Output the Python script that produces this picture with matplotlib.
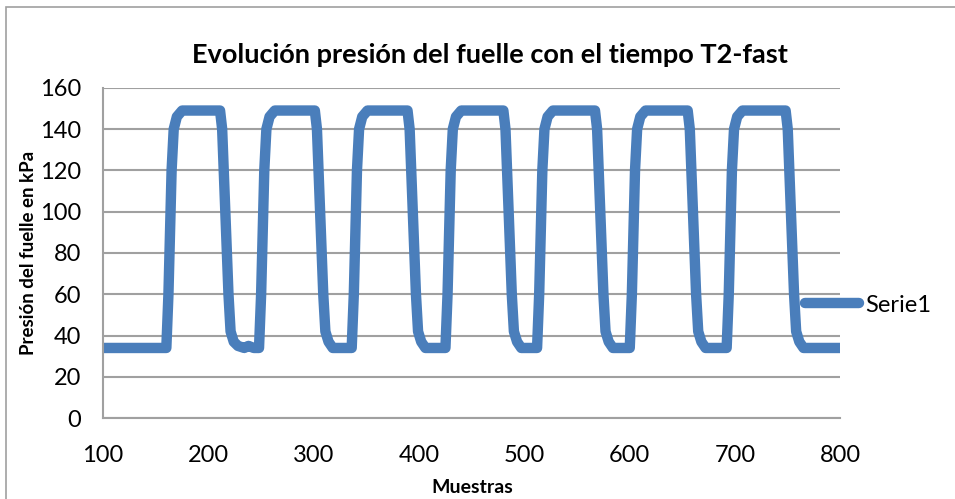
import matplotlib.pyplot as plt
from matplotlib.patches import Rectangle

plt.rcParams['font.family'] = ['Lato', 'DejaVu Sans']

# key points of the pressure trace (muestra, kPa)
muestras = [100, 160, 162, 165, 167, 170, 175, 211, 213, 216, 219, 221, 224, 228, 234, 238, 243,
            248, 250, 253, 255, 258, 263, 301, 303, 306, 309, 311, 314, 318,
            336, 338, 341, 343, 346, 351, 389, 391, 394, 397, 399, 402, 406,
            425, 427, 430, 432, 435, 440, 480, 482, 485, 488, 490, 493, 497,
            512, 514, 517, 519, 522, 527, 567, 569, 572, 575, 577, 580, 584,
            600, 602, 605, 607, 610, 615, 655, 657, 660, 663, 665, 668, 672,
            692, 694, 697, 699, 702, 707, 748, 750, 753, 756, 758, 761, 765, 800]
presion = [34, 34, 60, 120, 140, 146, 149, 149, 140, 100, 60, 42, 37, 35, 34, 35, 34,
           34, 60, 120, 140, 146, 149, 149, 140, 100, 60, 42, 37, 34,
           34, 60, 120, 140, 146, 149, 149, 140, 100, 60, 42, 37, 34,
           34, 60, 120, 140, 146, 149, 149, 140, 100, 60, 42, 37, 34,
           34, 60, 120, 140, 146, 149, 149, 140, 100, 60, 42, 37, 34,
           34, 60, 120, 140, 146, 149, 149, 140, 100, 60, 42, 37, 34,
           34, 60, 120, 140, 146, 149, 149, 140, 100, 60, 42, 37, 34, 34]

fig = plt.figure(figsize=(9.55, 4.99), dpi=100)
ax = fig.add_axes([0.108, 0.162, 0.772, 0.662])

ax.plot(muestras, presion, color='#4A7EBB', linewidth=7.5,
        solid_joinstyle='round', solid_capstyle='round', label='Serie1')

ax.set_xlim(100, 800)
ax.set_ylim(0, 160)
ax.set_xticks(range(100, 801, 100))
ax.set_yticks(range(0, 161, 20))
ax.tick_params(length=0, labelsize=17)
ax.tick_params(axis='x', pad=19)
ax.tick_params(axis='y', pad=16)
ax.grid(axis='y', color='#A0A0A0', linewidth=1.5)
ax.set_axisbelow(True)
for s in ['top', 'right']:
    ax.spines[s].set_visible(False)
for s in ['left', 'bottom']:
    ax.spines[s].set_color('#A0A0A0')
    ax.spines[s].set_linewidth(1.5)

ax.set_title('Evolución presión del fuelle con el tiempo T2-fast',
             fontsize=19.5, fontweight='bold', pad=18, x=0.525)
ax.set_xlabel('Muestras', fontsize=14, fontweight='bold', labelpad=10)
ax.set_ylabel('Presión del fuelle en kPa', fontsize=13.5, fontweight='bold', labelpad=2)

ax.legend(loc='center left', bbox_to_anchor=(0.952, 0.342), frameon=False,
          fontsize=17, handlelength=2.3, handletextpad=0.25,
          borderpad=0, borderaxespad=0)

fig.patches.append(Rectangle((0.006, -0.1), 2, 1.086, transform=fig.transFigure,
                             fill=False, edgecolor='#A0A0A0', linewidth=1.2))

plt.savefig('out.png', dpi=100)
